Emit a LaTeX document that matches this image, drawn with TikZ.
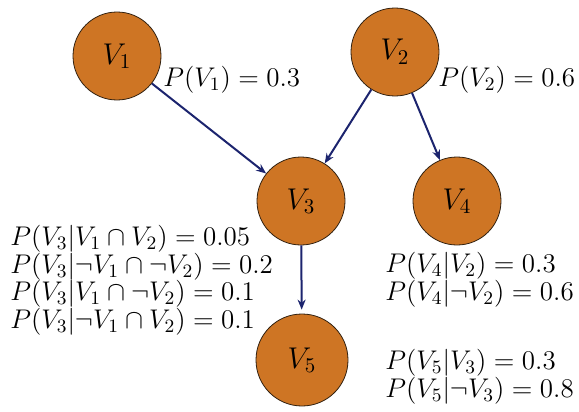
\RequirePackage{fix-cm}
\documentclass[tikz,border=0pt]{standalone}
\usetikzlibrary{arrows.meta,positioning}
\definecolor{nodeorange}{RGB}{206,117,36}
\definecolor{edgeblue}{RGB}{28,36,110}

\begin{document}
\begin{tikzpicture}[x=0.5pt,y=-0.5pt,
  var/.style={circle,draw=black!75!brown,fill=nodeorange,minimum size=44pt,inner sep=0pt,font=\fontsize{15}{15}\selectfont},
  ar/.style={-{Stealth[length=5pt,width=4pt]},edgeblue,line width=1pt},
  prob/.style={font=\fontsize{13.5}{13.8}\selectfont,align=left,inner sep=0pt}]

\useasboundingbox (0,0) rectangle (579,412);

\node[var] (V1) at (117,56) {$V_1$};
\node[var] (V2) at (395,52) {$V_2$};
\node[var] (V3) at (301,201) {$V_3$};
\node[var] (V4) at (457,201) {$V_4$};
\node[var,minimum size=46pt] (V5) at (302,360) {$V_5$};

\node[prob,anchor=west] (P1) at (163,80) {$P(V_1) = 0.3$};
\node[prob,anchor=west] (P2) at (438,80) {$P(V_2) = 0.6$};
\node[prob,anchor=north west] (P3) at (10,225)
  {$P(V_3|V_1 \cap V_2) = 0.05$\\
   $P(V_3|\neg V_1 \cap \neg V_2) = 0.2$\\
   $P(V_3|V_1 \cap \neg V_2) = 0.1$\\
   $P(V_3|\neg V_1 \cap V_2) = 0.1$};
\node[prob,anchor=north west] (P4) at (385,252)
  {$P(V_4|V_2) = 0.3$\\
   $P(V_4|\neg V_2) = 0.6$};
\node[prob,anchor=north west] (P5) at (385,349)
  {$P(V_5|V_3) = 0.3$\\
   $P(V_5|\neg V_3) = 0.8$};

\draw[ar] (V1) -- (V3);
\draw[ar] (V2) -- (V3);
\draw[ar] (V2) -- (V4);
\draw[ar,shorten >=2pt] (V3) -- (V5);
\end{tikzpicture}
\end{document}
